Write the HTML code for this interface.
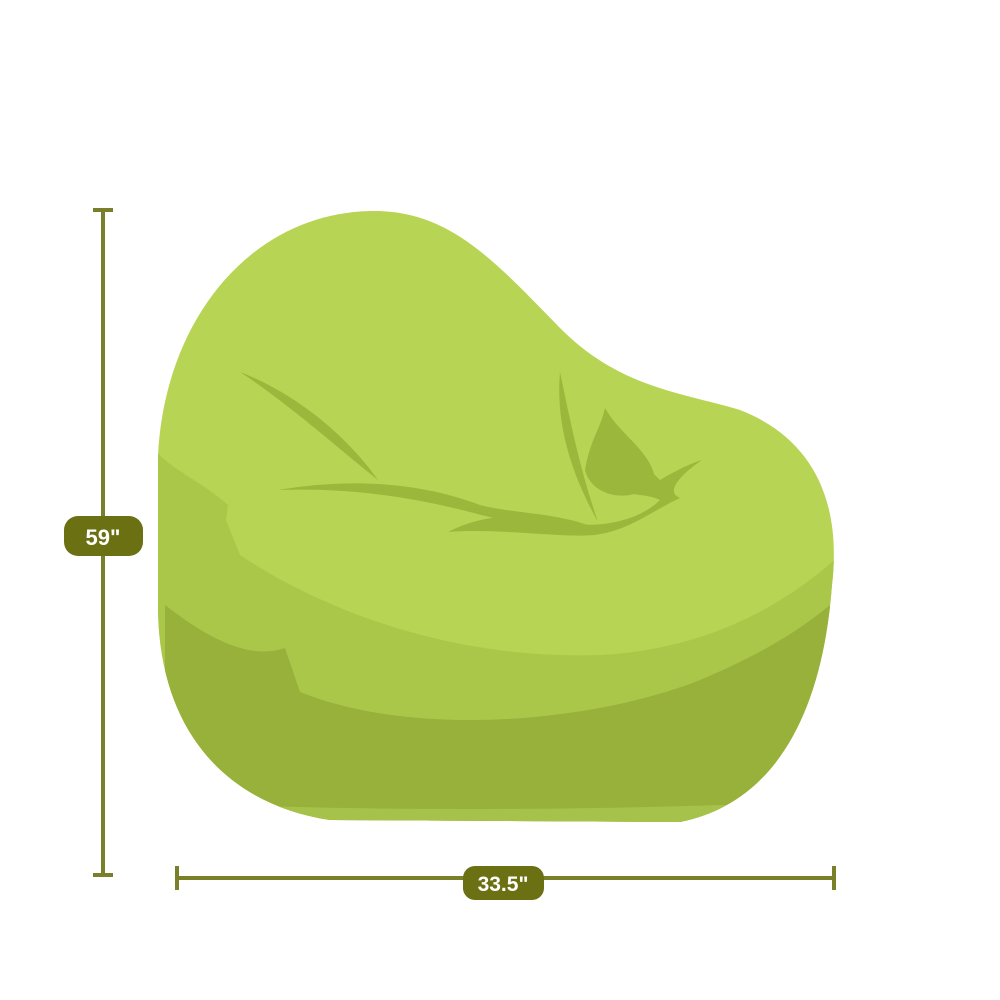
<!DOCTYPE html>
<html><head><meta charset="utf-8"><style>
html,body{margin:0;padding:0;background:#fff;width:1000px;height:1000px;overflow:hidden}
svg{display:block}
</style></head><body>
<svg width="1000" height="1000" viewBox="0 0 1000 1000">
<defs>
<clipPath id="body"><path d="M330 820 C230 805 160 735 158 610 L158 455 C165 320 250 214 370 211 C450 209 495 262 560 328 C620 388 680 392 740 410 C812 438 842 500 832 585 C823 705 780 802 680 822 Z"/></clipPath>
</defs>
<g clip-path="url(#body)">
<rect x="140" y="200" width="720" height="640" fill="#b8d454"/>
<path d="M150 445 C170 470 200 480 228 505 L226 520 L240 555 C330 615 460 660 600 655 C700 650 780 610 840 555 L840 830 L150 830 Z" fill="#abc74a"/>
<path d="M165 605 C210 640 250 660 285 648 L300 692 C420 740 600 720 700 680 C760 655 800 630 830 605 L830 830 L165 830 Z" fill="#97b13a"/>
<path d="M150 800 C300 812 600 812 850 800 L850 830 L150 830 Z" fill="#a6c24a"/>
</g>
<g fill="#9bb83c">
<path d="M240 372 C300 395 350 440 378 480 C340 450 290 405 240 372 Z"/>
<path d="M278 490 C350 478 420 482 480 505 C520 515 560 512 600 530 C560 528 520 526 470 512 C400 494 340 488 278 490 Z"/>
<path d="M448 532 C480 515 520 512 560 522 C600 530 640 520 660 500 C640 490 600 500 620 470 C630 450 650 470 660 480 C680 468 695 462 702 460 C680 475 665 492 680 498 C650 512 630 530 595 535 C560 538 500 528 448 532 Z"/>
<path d="M560 372 C570 420 580 470 598 522 C575 480 555 430 560 372 Z"/>
<path d="M605 408 C600 430 590 440 585 470 C592 500 640 505 655 478 C650 450 620 435 605 408 Z"/>
</g>
<g stroke="#7a7f2a" stroke-width="4" fill="none">
<line x1="103" y1="210" x2="103" y2="875"/>
<line x1="93" y1="210" x2="113" y2="210"/>
<line x1="93" y1="875" x2="113" y2="875"/>
</g>
<g stroke="#7a7f2a" stroke-width="4" fill="none">
<line x1="177" y1="878" x2="834" y2="878"/>
<line x1="177" y1="866" x2="177" y2="890"/>
<line x1="834" y1="866" x2="834" y2="890"/>
</g>
<g>
<rect x="64" y="516" width="79" height="40" rx="14" fill="#6b7112"/>
<text x="103" y="545" text-anchor="middle" font-family="Liberation Sans, sans-serif" font-weight="bold" font-size="22" fill="#fff">59"</text>
</g>
<g>
<rect x="463" y="866" width="81" height="34" rx="12" fill="#6b7112"/>
<text x="503" y="891" text-anchor="middle" font-family="Liberation Sans, sans-serif" font-weight="bold" font-size="21" fill="#fff">33.5"</text>
</g>
</svg>
</body></html>
